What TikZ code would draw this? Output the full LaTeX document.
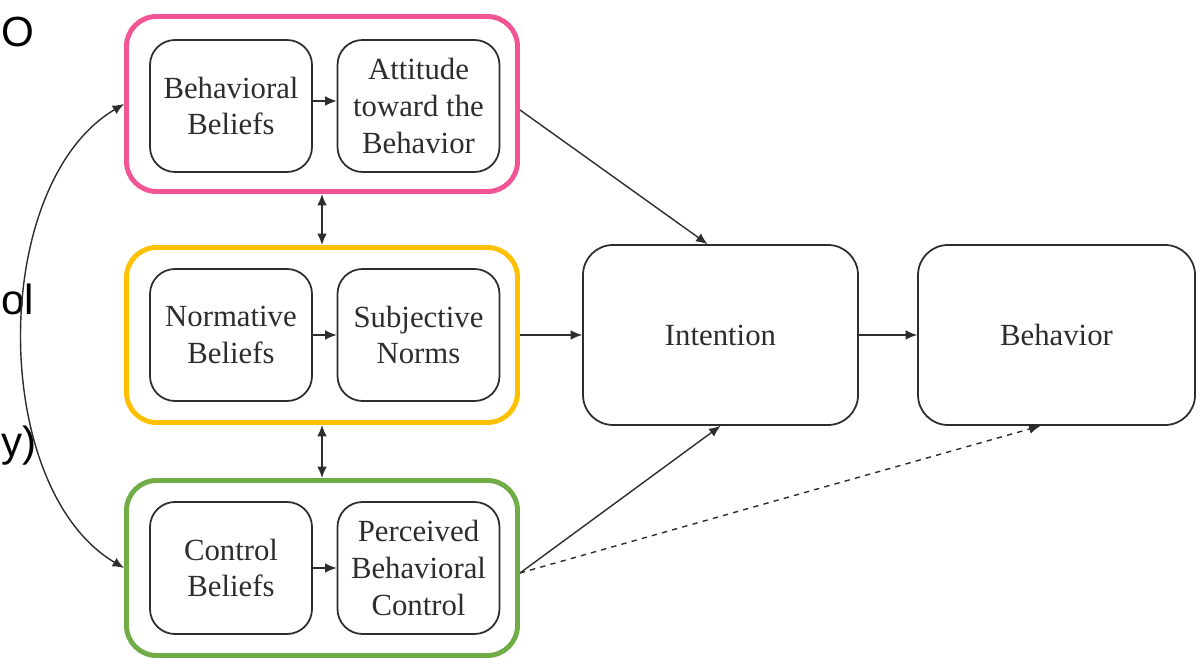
\documentclass[tikz,border=0pt]{standalone}
\usepackage{fontspec}
\setmainfont{Liberation Serif}
\newfontfamily\slidefont{Liberation Sans}
\usetikzlibrary{arrows.meta}

\definecolor{tpbpink}{RGB}{242,84,148}
\definecolor{tpbyellow}{RGB}{255,192,0}
\definecolor{tpbgreen}{RGB}{112,173,71}
\definecolor{tpbline}{RGB}{45,45,45}

\tikzset{
	inner/.style={draw=tpbline, line width=1pt, rounded corners=0.5cm, minimum width=3.24cm, minimum height=2.64cm, align=center, inner sep=2pt, font=\fontsize{17.5}{21}\selectfont, text=tpbline},
	group/.style={line width=2.8pt, rounded corners=0.6cm, minimum width=7.82cm, minimum height=3.5cm, inner sep=0pt},
	big/.style={draw=tpbline, line width=1pt, rounded corners=0.6cm, minimum width=5.5cm, minimum height=3.6cm, font=\fontsize{17.5}{21}\selectfont, text=tpbline},
	link/.style={draw=tpbline, line width=0.8pt, -{Latex[length=6.5pt,width=5.5pt]}},
	slidetext/.style={inner sep=0pt, font=\slidefont\fontsize{24}{28}\selectfont},
}

\begin{document}
\begin{tikzpicture}
	\useasboundingbox (0,0) rectangle (24,13.14);
	
	% slide text at the left edge
	\node[slidetext, anchor=base west] (txto) at (0.02,12.2) {O};
	\node[slidetext, anchor=base west] (txtol) at (0.02,6.84) {ol};
	\node[slidetext, anchor=base west] (txty) at (0.02,4.0) {y)};
	
	% coloured groups
	\node[group, draw=tpbpink] (attgrp) at (6.44,11.06) {};
	\node[group, draw=tpbyellow] (sngrp) at (6.44,6.44) {};
	\node[group, draw=tpbgreen] (pbcgrp) at (6.44,1.78) {};
	
	\node[inner] (bbel) at (4.62,11.02) {Behavioral\\Beliefs};
	\node[inner] (att) at (8.37,11.02) {Attitude\\toward the\\Behavior};
	\node[inner] (nbel) at (4.62,6.44) {Normative\\Beliefs};
	\node[inner] (sn) at (8.37,6.44) {Subjective\\Norms};
	\node[inner] (cbel) at (4.62,1.78) {Control\\Beliefs};
	\node[inner] (pbc) at (8.37,1.78) {Perceived\\Behavioral\\Control};
	
	\node[big] (int) at (14.41,6.44) {Intention};
	\node[big, minimum width=5.54cm] (beh) at (21.13,6.44) {Behavior};
	
	% arrows inside the groups
	\draw[link] ([yshift=0.1cm]bbel.east) -- ([yshift=0.1cm]att.west);
	\draw[link] (nbel) -- (sn);
	\draw[link] (cbel) -- (pbc);
	
	% between the groups
	\draw[link, {Latex[length=6.5pt,width=5.5pt]}-{Latex[length=6.5pt,width=5.5pt]}] (attgrp) -- (sngrp);
	\draw[link, {Latex[length=6.5pt,width=5.5pt]}-{Latex[length=6.5pt,width=5.5pt]}] (sngrp) -- (pbcgrp);
	\draw[link, {Latex[length=6.5pt,width=5.5pt]}-{Latex[length=6.5pt,width=5.5pt]}] (attgrp.west) .. controls +(-2.7,-1.6) and +(-2.7,1.6) .. (pbcgrp.west);
	
	% to intention and behavior
	\draw[link] ([yshift=-0.12cm]attgrp.east) -- ([xshift=-0.26cm]int.north);
	\draw[link] (sngrp) -- (int);
	\draw[link] ([yshift=-0.1cm]pbcgrp.east) -- (int.south);
	\draw[link, dashed] ([yshift=-0.1cm]pbcgrp.east) -- ([xshift=-0.32cm]beh.south);
	\draw[link] (int) -- (beh);
\end{tikzpicture}
\end{document}
